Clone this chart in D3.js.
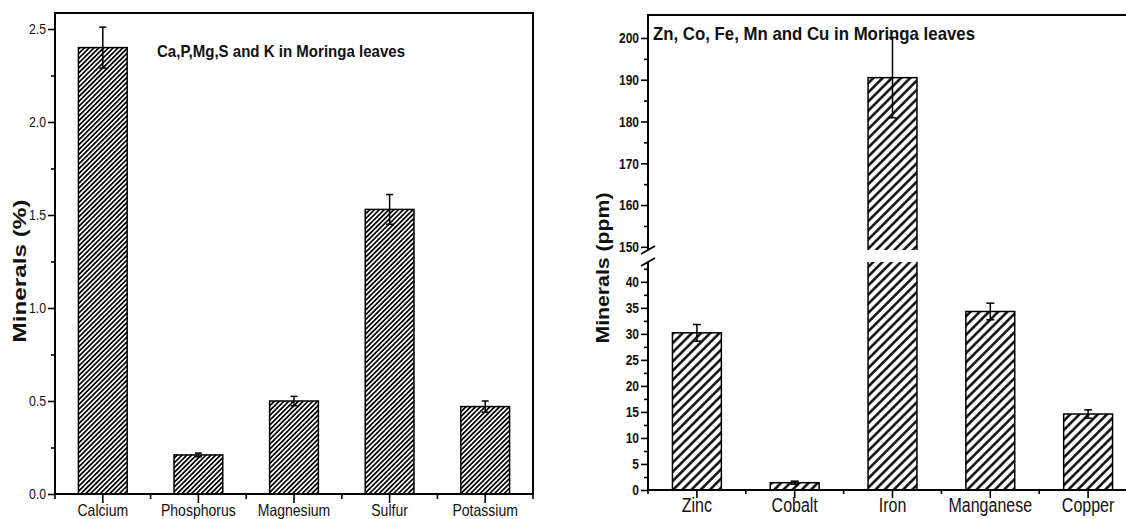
<!DOCTYPE html>
<html>
<head>
<meta charset="utf-8">
<script src="https://cdn.jsdelivr.net/npm/d3@7"></script>
<style>
  body { margin: 0; background: #fff; }
  svg { display: block; }
  text { fill: #111; }
</style>
</head>
<body>
<div id="chart"></div>
<script>
// left panel: macro minerals (%)
var leftCats = ["Calcium", "Phosphorus", "Magnesium", "Sulfur", "Potassium"];
var leftVals = [2.40, 0.21, 0.50, 1.53, 0.47];
var leftErr  = [0.11, 0.01, 0.025, 0.08, 0.03];
var leftTicks = [0, 0.5, 1.0, 1.5, 2.0, 2.5];
var leftMinor = [0.25, 0.75, 1.25, 1.75, 2.25];

// right panel: trace minerals (ppm), broken y axis
var rightCats = ["Zinc", "Cobalt", "Iron", "Manganese", "Copper"];
var rightVals = [30.2, 1.4, 190.5, 34.3, 14.6];
var rightErr  = [1.6, 0.3, 9.6, 1.6, 0.8];
var lowTicks  = [0, 5, 10, 15, 20, 25, 30, 35, 40];
var lowMinor  = [2.5, 7.5, 12.5, 17.5, 22.5, 27.5, 32.5, 37.5, 42.5];
var highTicks = [150, 160, 170, 180, 190, 200];
var highMinor = [155, 165, 175, 185, 195];

var W = 1126, H = 519;
var sans = "'Liberation Sans', Arial, sans-serif";

var svg = d3.select("#chart").append("svg")
    .attr("width", W).attr("height", H);

// squeeze text horizontally (no narrow font installed)
function condense(sel, f) {
  sel.each(function() {
    var w = this.getComputedTextLength();
    d3.select(this).attr("textLength", w * f).attr("lengthAdjust", "spacingAndGlyphs");
  });
}

var defs = svg.append("defs");
function hatch(id, size, sw) {
  var p = defs.append("pattern")
      .attr("id", id)
      .attr("patternUnits", "userSpaceOnUse")
      .attr("width", size).attr("height", size)
      .attr("patternTransform", "rotate(45)");
  p.append("rect").attr("width", size).attr("height", size).attr("fill", "#fff");
  p.append("line")
      .attr("x1", size / 2).attr("y1", 0).attr("x2", size / 2).attr("y2", size)
      .attr("stroke", "#000").attr("stroke-width", sw);
}
hatch("hatchDense", 3.4, 1.7);
hatch("hatchWide", 6.5, 2.4);

// ---------------- left chart ----------------
var L = {x0: 55, x1: 533, y0: 13, y1: 494};
var xL = d3.scaleBand().domain(leftCats).range([L.x0, L.x1]).paddingInner(0.49).paddingOuter(0.245);
var yL = d3.scaleLinear().domain([0, 2.586]).range([L.y1, L.y0]);

var gL = svg.append("g");

gL.selectAll("rect.bar").data(leftCats).enter().append("rect")
    .attr("class", "bar")
    .attr("x", function(d) { return xL(d); })
    .attr("width", xL.bandwidth())
    .attr("y", function(d, i) { return yL(leftVals[i]); })
    .attr("height", function(d, i) { return yL(0) - yL(leftVals[i]); })
    .attr("fill", "url(#hatchDense)")
    .attr("stroke", "#000").attr("stroke-width", 1.5);

function errBars(g, cats, x, y, vals, errs, cap) {
  var e = g.selectAll("g.err").data(cats).enter().append("g").attr("class", "err");
  e.append("line")
      .attr("x1", function(d) { return x(d) + x.bandwidth() / 2; })
      .attr("x2", function(d) { return x(d) + x.bandwidth() / 2; })
      .attr("y1", function(d, i) { return y(vals[i] - errs[i]); })
      .attr("y2", function(d, i) { return y(vals[i] + errs[i]); })
      .attr("stroke", "#000").attr("stroke-width", 1.5);
  [1, -1].forEach(function(s) {
    e.append("line")
        .attr("x1", function(d) { return x(d) + x.bandwidth() / 2 - cap; })
        .attr("x2", function(d) { return x(d) + x.bandwidth() / 2 + cap; })
        .attr("y1", function(d, i) { return y(vals[i] + s * errs[i]); })
        .attr("y2", function(d, i) { return y(vals[i] + s * errs[i]); })
        .attr("stroke", "#000").attr("stroke-width", 1.5);
  });
}
errBars(gL, leftCats, xL, yL, leftVals, leftErr, 3.5);

// y axis
var axL = gL.append("g").attr("transform", "translate(" + L.x0 + ",0)")
    .call(d3.axisLeft(yL).tickValues(leftTicks).tickFormat(d3.format(".1f")).tickSize(7).tickPadding(2));
axL.select(".domain").remove();
axL.selectAll(".tick line").attr("stroke-width", 1.6);
axL.selectAll(".tick text").attr("font-family", sans).attr("font-size", 15).attr("fill", "#111")
    .call(condense, 0.82);
gL.append("g").attr("transform", "translate(" + L.x0 + ",0)")
    .call(d3.axisLeft(yL).tickValues(leftMinor).tickFormat("").tickSize(4))
    .call(function(g) { g.select(".domain").remove(); g.selectAll("line").attr("stroke-width", 1.6); });

// frame
gL.append("path")
    .attr("d", "M" + L.x0 + "," + L.y1 + "V" + L.y0 + "H" + L.x1 + "V" + L.y1 + "H" + L.x0)
    .attr("fill", "none").attr("stroke", "#000").attr("stroke-width", 2);

// x ticks
function xTicks(g, cats, x, yb, x0, longT, shortT) {
  g.selectAll("line.xt").data(cats).enter().append("line")
      .attr("x1", function(d) { return x(d) + x.bandwidth() / 2; })
      .attr("x2", function(d) { return x(d) + x.bandwidth() / 2; })
      .attr("y1", yb).attr("y2", yb + longT)
      .attr("stroke", "#000").attr("stroke-width", 1.6);
  var step = x.step();
  var bounds = d3.range(cats.length + 1).map(function(i) { return x0 + i * step; });
  g.selectAll("line.xb").data(bounds).enter().append("line")
      .attr("x1", function(d) { return d; }).attr("x2", function(d) { return d; })
      .attr("y1", yb).attr("y2", yb + shortT)
      .attr("stroke", "#000").attr("stroke-width", 1.6);
}
xTicks(gL, leftCats, xL, L.y1, L.x0, 9, 5);

gL.selectAll("text.xl").data(leftCats).enter().append("text")
    .attr("x", function(d) { return xL(d) + xL.bandwidth() / 2; })
    .attr("y", 516)
    .attr("text-anchor", "middle")
    .attr("font-family", sans).attr("font-size", 16.5)
    .text(function(d) { return d; })
    .call(condense, 0.85);

gL.append("text")
    .attr("x", 157).attr("y", 57)
    .attr("font-family", sans).attr("font-size", 17).attr("font-weight", "bold")
    .attr("textLength", 248).attr("lengthAdjust", "spacingAndGlyphs")
    .text("Ca,P,Mg,S and K in Moringa leaves");

gL.append("text")
    .attr("transform", "translate(26,271) rotate(-90)")
    .attr("text-anchor", "middle")
    .attr("font-family", sans).attr("font-size", 18).attr("font-weight", "bold")
    .attr("textLength", 143).attr("lengthAdjust", "spacingAndGlyphs")
    .text("Minerals (%)");

// ---------------- right chart ----------------
var R = {x0: 648, x1: 1137, y0: 15, y1: 490, breakLo: 261, breakHi: 251};
var xR = d3.scaleBand().domain(rightCats).range([R.x0, R.x1]).paddingInner(0.5).paddingOuter(0.25);
var yLow = d3.scaleLinear().domain([0, 44]).range([R.y1, R.breakLo]);
var yHigh = d3.scaleLinear().domain([149, 205.5]).range([R.breakHi, R.y0]);
var lowMax = 44, highMin = 149;
function yR(v) { return v >= highMin ? yHigh(v) : yLow(v); }

var gR = svg.append("g");

var barsR = gR.selectAll("g.bar").data(rightCats).enter().append("g").attr("class", "bar");
barsR.append("rect")
    .attr("x", function(d) { return xR(d); })
    .attr("width", xR.bandwidth())
    .attr("y", function(d, i) { return yLow(Math.min(rightVals[i], lowMax)); })
    .attr("height", function(d, i) { return yLow(0) - yLow(Math.min(rightVals[i], lowMax)); })
    .attr("fill", "url(#hatchWide)")
    .attr("stroke", "#000").attr("stroke-width", 1.5);
barsR.filter(function(d, i) { return rightVals[i] > highMin; })
  .append("rect")
    .attr("x", function(d) { return xR(d); })
    .attr("width", xR.bandwidth())
    .attr("y", function(d) { return yHigh(rightVals[rightCats.indexOf(d)]); })
    .attr("height", function(d) { return yHigh(highMin) - yHigh(rightVals[rightCats.indexOf(d)]); })
    .attr("fill", "url(#hatchWide)")
    .attr("stroke", "#000").attr("stroke-width", 1.5);
// white cut across the broken bar
barsR.filter(function(d, i) { return rightVals[i] > highMin; })
  .append("rect")
    .attr("x", function(d) { return xR(d) - 2; })
    .attr("width", xR.bandwidth() + 4)
    .attr("y", R.breakHi - 1).attr("height", R.breakLo - R.breakHi + 2)
    .attr("fill", "#fff");

errBars(gR, rightCats, xR, yR, rightVals, rightErr, 4);

// y axes (two segments)
function yAxisSeg(scale, major, minor) {
  var a = gR.append("g").attr("transform", "translate(" + R.x0 + ",0)")
      .call(d3.axisLeft(scale).tickValues(major).tickFormat(d3.format("d")).tickSize(7).tickPadding(2));
  a.select(".domain").remove();
  a.selectAll(".tick line").attr("stroke-width", 1.6);
  a.selectAll(".tick text").attr("font-family", sans).attr("font-size", 15)
      .attr("font-weight", "bold").attr("fill", "#222")
      .call(condense, 0.8);
  gR.append("g").attr("transform", "translate(" + R.x0 + ",0)")
      .call(d3.axisLeft(scale).tickValues(minor).tickFormat("").tickSize(4))
      .call(function(g) { g.select(".domain").remove(); g.selectAll("line").attr("stroke-width", 1.6); });
}
yAxisSeg(yLow, lowTicks, lowMinor);
yAxisSeg(yHigh, highTicks, highMinor);

gR.append("path")
    .attr("d", "M" + R.x0 + "," + (R.breakHi - 1) + "V" + R.y0 + "H" + R.x1 + "V" + R.y1 + "H" + R.x0 + "V" + (R.breakLo + 1))
    .attr("fill", "none").attr("stroke", "#000").attr("stroke-width", 2);
// break marks
[R.breakHi - 1, R.breakLo + 1].forEach(function(y) {
  gR.append("line")
      .attr("x1", R.x0 - 7).attr("y1", y + 4)
      .attr("x2", R.x0 + 7).attr("y2", y - 4)
      .attr("stroke", "#000").attr("stroke-width", 1.8);
});

xTicks(gR, rightCats, xR, R.y1, R.x0, 8, 4);

gR.selectAll("text.xl").data(rightCats).enter().append("text")
    .attr("x", function(d) { return xR(d) + xR.bandwidth() / 2; })
    .attr("y", 512)
    .attr("text-anchor", "middle")
    .attr("font-family", sans).attr("font-size", 19.5)
    .text(function(d) { return d; })
    .call(condense, 0.82);

gR.append("text")
    .attr("x", 653).attr("y", 40)
    .attr("font-family", sans).attr("font-size", 19).attr("font-weight", "bold")
    .attr("textLength", 322).attr("lengthAdjust", "spacingAndGlyphs")
    .text("Zn, Co, Fe, Mn and Cu in Moringa leaves");

gR.append("text")
    .attr("transform", "translate(609,268) rotate(-90)")
    .attr("text-anchor", "middle")
    .attr("font-family", sans).attr("font-size", 18).attr("font-weight", "bold")
    .attr("textLength", 151).attr("lengthAdjust", "spacingAndGlyphs")
    .text("Minerals (ppm)");
</script>
</body>
</html>
